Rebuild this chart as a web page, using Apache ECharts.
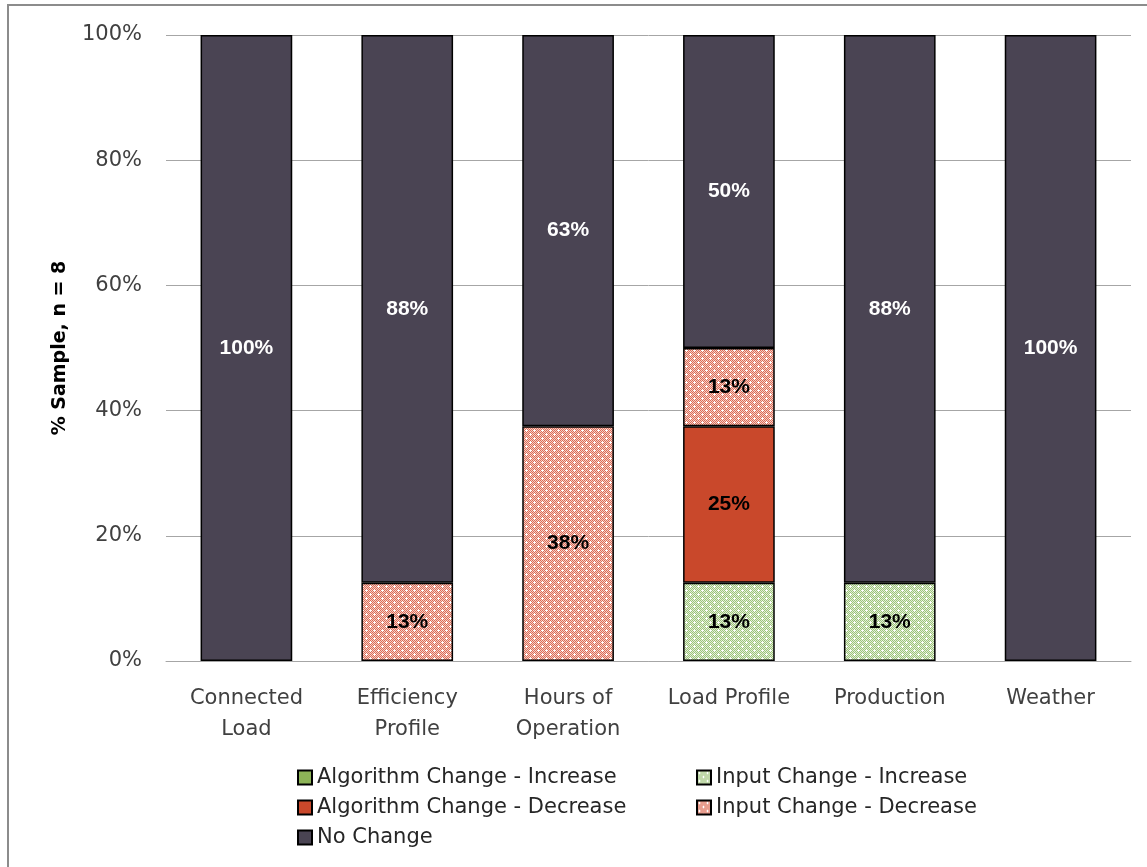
<!DOCTYPE html>
<html>
<head>
<meta charset="utf-8">
<script src="https://cdn.jsdelivr.net/npm/echarts@6/dist/echarts.min.js"></script>
<style>
  html, body { margin: 0; padding: 0; background: #fff; }
  #chart { width: 1147px; height: 867px; }
</style>
</head>
<body>
<div id="chart"></div>
<script>
// Categories along the x axis
const categories = ['Connected\nLoad', 'Efficiency\nProfile', 'Hours of\nOperation', 'Load Profile', 'Production', 'Weather'];

// Share of sample (%) per category, n = 8
const algorithmIncrease = [0, 0, 0, 0, 0, 0];
const inputIncrease     = [0, 0, 0, 12.5, 12.5, 0];
const algorithmDecrease = [0, 0, 0, 25, 0, 0];
const inputDecrease     = [0, 12.5, 37.5, 12.5, 0, 0];
const noChange          = [100, 87.5, 62.5, 50, 87.5, 100];

const seriesNames = [
  'Algorithm Change - Increase',
  'Input Change - Increase',
  'Algorithm Change - Decrease',
  'Input Change - Decrease',
  'No Change'
];

const FONT = '"DejaVu Sans", sans-serif';
const BOLD_FONT = '"Liberation Sans", Arial, sans-serif';

// Small dotted hatch used for the "Input Change" fills
function makePattern(base, dot, light) {
  const c = document.createElement('canvas');
  c.width = 8; c.height = 8;
  const g = c.getContext('2d');
  g.fillStyle = base;
  g.fillRect(0, 0, 8, 8);
  for (let y = 0; y < 8; y++) {
    for (let x = 0; x < 8; x++) {
      g.fillStyle = (x + y) % 2 === 0 ? dot : light;
      g.fillRect(x, y, 1, 1);
    }
  }
  g.fillStyle = '#ffffff';
  g.fillRect(2, 1, 1, 3);
  g.fillRect(1, 2, 3, 1);
  g.fillRect(6, 5, 1, 3);
  g.fillRect(5, 6, 3, 1);
  return { image: c, repeat: 'repeat' };
}

const redPattern = makePattern('#eea898', '#dc6c58', '#f6cfc5');
const greenPattern = makePattern('#cfe3bb', '#9cc47a', '#e4efd8');

const fills = ['#8db457', greenPattern, '#c9482b', redPattern, '#4a4453'];
const labelColors = ['#000', '#000', '#000', '#000', '#fff'];
const dataSets = [algorithmIncrease, inputIncrease, algorithmDecrease, inputDecrease, noChange];

const chart = echarts.init(document.getElementById('chart'), null, { renderer: 'canvas' });

const series = seriesNames.map((name, i) => ({
  name: name,
  type: 'bar',
  stack: 'total',
  barWidth: '57%',
  data: dataSets[i].map(v => (v > 0 ? v : null)),
  itemStyle: { color: fills[i], borderColor: '#000', borderWidth: 1.5 },
  label: {
    show: true,
    position: 'inside',
    formatter: p => Math.round(p.value) + '%',
    color: labelColors[i],
    fontFamily: BOLD_FONT,
    fontWeight: 'bold',
    fontSize: 21
  },
  emphasis: { disabled: true }
}));

const legendText = { fontFamily: FONT, fontSize: 21, color: '#262626' };
const legendIcon = 'path://M0,0H10V10H0Z';

chart.setOption({
  animation: false,
  backgroundColor: '#fff',
  graphic: [{
    type: 'rect',
    shape: { x: 8, y: 5, width: 1300, height: 1000 },
    style: { fill: 'none', stroke: '#8c8c8c', lineWidth: 2 },
    silent: true
  }],
  grid: { left: 166, right: 16, top: 35, bottom: 206 },
  legend: [
    {
      data: [seriesNames[0], seriesNames[2], seriesNames[4]],
      orient: 'vertical',
      left: 292, top: 762,
      itemWidth: 14, itemHeight: 14, itemGap: 9,
      icon: legendIcon,
      textStyle: legendText,
      selectedMode: false
    },
    {
      data: [seriesNames[1], seriesNames[3]],
      orient: 'vertical',
      left: 691, top: 762,
      itemWidth: 14, itemHeight: 14, itemGap: 9,
      icon: legendIcon,
      textStyle: legendText,
      selectedMode: false
    }
  ],
  xAxis: {
    type: 'category',
    data: categories,
    axisLine: { lineStyle: { color: '#a6a6a6', width: 1 } },
    axisTick: { show: false },
    axisLabel: {
      fontFamily: FONT, fontSize: 21, color: '#404040',
      lineHeight: 31, margin: 22, interval: 0
    }
  },
  yAxis: {
    type: 'value',
    min: 0, max: 100, interval: 20,
    name: '% Sample, n = 8',
    nameLocation: 'middle',
    nameGap: 96,
    nameRotate: 90,
    nameTextStyle: { fontFamily: FONT, fontSize: 19, fontWeight: 'bold', color: '#000' },
    axisLine: { show: false },
    axisTick: { show: false },
    axisLabel: {
      formatter: '{value}%',
      fontFamily: FONT, fontSize: 21, color: '#404040', margin: 24
    },
    splitLine: { lineStyle: { color: '#a6a6a6', width: 1 } }
  },
  series: series
});
</script>
</body>
</html>
